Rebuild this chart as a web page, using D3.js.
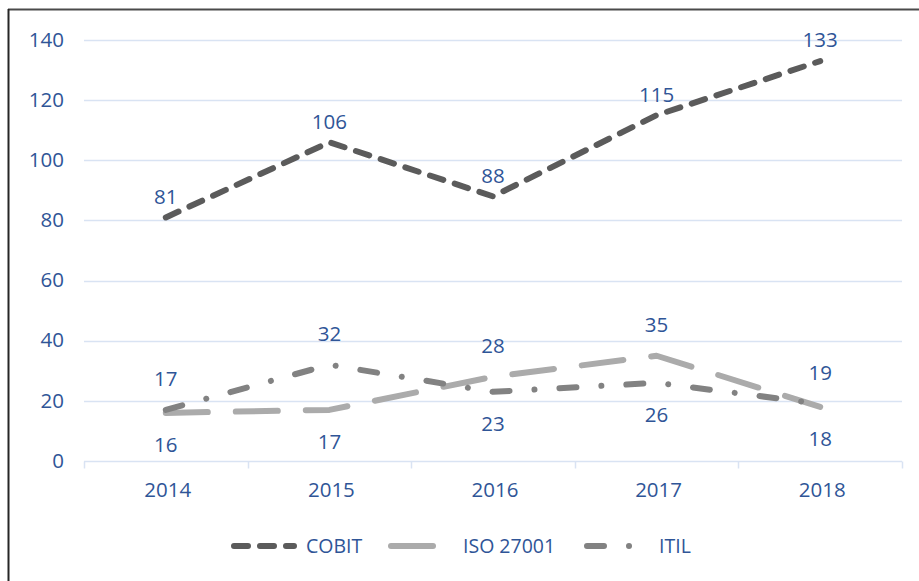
<!DOCTYPE html>
<html>
<head>
<meta charset="utf-8">
<script src="https://cdn.jsdelivr.net/npm/d3@7"></script>
<style>
  body { margin: 0; background: #fff; }
  svg text { font-family: "Open Sans", sans-serif; fill: #2F5597; }
</style>
</head>
<body>
<svg id="chart" width="919" height="581"></svg>
<script>
'use strict';

// data
const years = ['2014', '2015', '2016', '2017', '2018'];
const cobit = [81, 106, 88, 115, 133];
const iso27001 = [16, 17, 28, 35, 18];
const itil = [17, 32, 23, 26, 19];
const yTicks = [0, 20, 40, 60, 80, 100, 120, 140];

// which side of the point each data label sits on
const cobitLabelSide = ['above', 'above', 'above', 'above', 'above'];
const isoLabelSide = ['below', 'below', 'above', 'above', 'below'];
const itilLabelSide = ['above', 'above', 'below', 'below', 'above'];

const series = [
  { name: 'COBIT', values: cobit, sides: cobitLabelSide, color: '#5B5B5B', width: 6, dash: '14,12', legendLen: 63 },
  { name: 'ISO 27001', values: iso27001, sides: isoLabelSide, color: '#ABABAB', width: 6, dash: '42,28', legendLen: 48 },
  { name: 'ITIL', values: itil, sides: itilLabelSide, color: '#828282', width: 6, dash: '17,25,0.01,25', legendLen: 48 }
];

const svg = d3.select('#chart');
const margin = { left: 84, right: 17, top: 40, bottom: 120 };
const W = 919, H = 581;
const fontSize = '20.5px';

/* scales */
const x = d3.scaleBand()
  .domain(years)
  .range([margin.left, W - margin.right])
  .padding(0);
const y = d3.scaleLinear()
  .domain([0, 140])
  .range([H - margin.bottom, margin.top]);
const cx = d => x(d) + x.bandwidth() / 2;

/* frame: the reference only shows top and left edges */
svg.append('line')
  .attr('x1', 8).attr('x2', W).attr('y1', 9.5).attr('y2', 9.5)
  .attr('stroke', '#4a4a4a').attr('stroke-width', 2);
svg.append('line')
  .attr('x1', 8.5).attr('x2', 8.5).attr('y1', 9).attr('y2', H)
  .attr('stroke', '#262626').attr('stroke-width', 2);

/* gridlines */
svg.append('g')
  .selectAll('line')
  .data(yTicks.filter(t => t > 0))
  .enter().append('line')
  .attr('x1', margin.left).attr('x2', W - margin.right)
  .attr('y1', d => Math.round(y(d)) + 0.5).attr('y2', d => Math.round(y(d)) + 0.5)
  .attr('stroke', '#D9E3F3').attr('stroke-width', 1.5);

/* y axis labels */
const yAxis = d3.axisLeft(y).tickValues(yTicks).tickSize(0).tickPadding(0);
const gy = svg.append('g')
  .attr('transform', 'translate(' + (margin.left - 20) + ',0)')
  .call(yAxis);
gy.select('.domain').remove();
gy.selectAll('text')
  .style('font-size', fontSize)
  .style('font-family', '"Open Sans", sans-serif')
  .attr('fill', '#2F5597')
  .attr('dy', '0.3em');

/* x axis with ticks between categories */
const base = Math.round(y(0)) + 0.5;
svg.append('line')
  .attr('x1', margin.left).attr('x2', W - margin.right)
  .attr('y1', base).attr('y2', base)
  .attr('stroke', '#D9E3F3').attr('stroke-width', 1.5);
const bounds = years.map(d => x(d)).concat([x(years[years.length - 1]) + x.bandwidth()]);
svg.append('g')
  .selectAll('line')
  .data(bounds)
  .enter().append('line')
  .attr('x1', d => Math.round(d) + 0.5).attr('x2', d => Math.round(d) + 0.5)
  .attr('y1', base).attr('y2', base + 7)
  .attr('stroke', '#D9E3F3').attr('stroke-width', 1.5);
svg.append('g')
  .selectAll('text')
  .data(years)
  .enter().append('text')
  .attr('x', d => cx(d) + 2)
  .attr('y', base + 35)
  .attr('text-anchor', 'middle')
  .style('font-size', fontSize)
  .text(d => d);

/* lines */
const line = d3.line()
  .x((d, i) => cx(years[i]))
  .y(d => y(d));

series.forEach(s => {
  svg.append('path')
    .datum(s.values)
    .attr('d', line)
    .attr('fill', 'none')
    .attr('stroke', s.color)
    .attr('stroke-width', s.width)
    .attr('stroke-dasharray', s.dash)
    .attr('stroke-linecap', 'round')
    .attr('stroke-linejoin', 'round');
});

/* data labels */
series.forEach(s => {
  const big = s.name === 'COBIT';
  svg.append('g')
    .selectAll('text')
    .data(s.values)
    .enter().append('text')
    .attr('x', (d, i) => cx(years[i]))
    .attr('y', (d, i) => {
      if (s.sides[i] === 'above') return y(d) - (big ? 21 : 31);
      return y(d) + 32;
    })
    .attr('dy', '0.36em')
    .attr('text-anchor', 'middle')
    .style('font-size', fontSize)
    .text(d => d);
});

/* legend */
const legendY = 546;
const legendX = [231, 388, 584];
const legend = svg.append('g');
series.forEach((s, i) => {
  const x0 = legendX[i];
  legend.append('line')
    .attr('x1', x0 + 3).attr('x2', x0 + s.legendLen)
    .attr('y1', legendY).attr('y2', legendY)
    .attr('stroke', s.color)
    .attr('stroke-width', s.width)
    .attr('stroke-dasharray', s.dash)
    .attr('stroke-linecap', 'round');
  legend.append('text')
    .attr('x', x0 + 75)
    .attr('y', legendY)
    .attr('dy', '0.36em')
    .style('font-size', '19.5px')
    .text(s.name);
});
</script>
</body>
</html>
